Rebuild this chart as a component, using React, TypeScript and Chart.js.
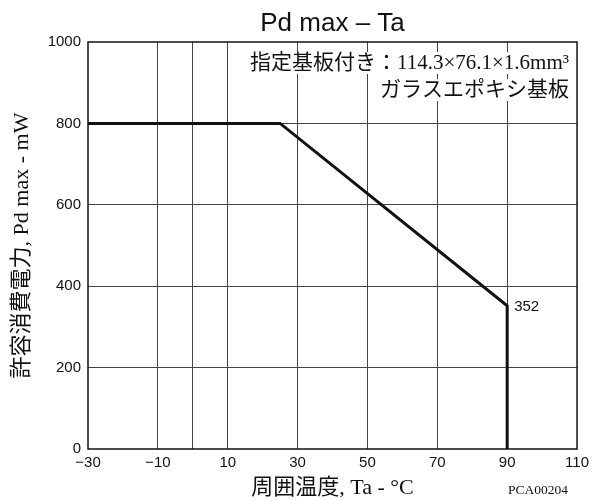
import React, { useEffect, useRef } from "react";
import { Chart, registerables } from "chart.js";

Chart.register(...registerables);

const tempX = [-30, 25, 90, 90];
const powerY = [800, 800, 352, 0];
const xTickLabels = [-30, -10, 10, 30, 50, 70, 90, 110];
const xGridLines = [-10, 0, 10, 30, 50, 70, 90];
const yTickValues = [0, 200, 400, 600, 800, 1000];
const yGridLines = [200, 400, 600, 800];
const chartTitle = "Pd max – Ta";
const xTitle = "周囲温度, Ta - °C";
const yTitle = "許容消費電力, Pd max - mW";
const noteLines = ["指定基板付き：114.3×76.1×1.6mm³", "ガラスエポキシ基板"];
const pointLabel = "352";
const docCode = "PCA00204";

const SERIF = "'Liberation Serif', 'Noto Sans CJK JP', serif";
const SANS = "'Liberation Sans', Arial, sans-serif";

const decorPlugin = {
  id: "decor",
  afterDatasetsDraw(chart: any) {
    const { ctx, chartArea: a, scales } = chart;
    ctx.save();
    // notes with white background
    ctx.font = `21px ${SERIF}`;
    ctx.textAlign = "right";
    ctx.textBaseline = "middle";
    const ys = [63, 90];
    noteLines.forEach((t, i) => {
      const w = ctx.measureText(t).width;
      ctx.fillStyle = "#fff";
      ctx.fillRect(a.right - 8 - w - 3, ys[i] - 11, w + 6, 22);
      ctx.fillStyle = "#111";
      ctx.fillText(t, a.right - 8, ys[i]);
    });
    // point label
    ctx.font = `15px ${SANS}`;
    ctx.textAlign = "left";
    ctx.fillStyle = "#111";
    const px = scales.x.getPixelForValue(tempX[2]);
    const py = scales.y.getPixelForValue(powerY[2]);
    ctx.fillText(pointLabel, px + 7, py + 1);
    // border
    ctx.strokeStyle = "#111";
    ctx.lineWidth = 1.5;
    ctx.strokeRect(a.left, a.top, a.right - a.left, a.bottom - a.top);
    // title
    ctx.font = `26px ${SANS}`;
    ctx.textAlign = "center";
    ctx.textBaseline = "alphabetic";
    ctx.fillText(chartTitle, (a.left + a.right) / 2, 31);
    // x title
    ctx.font = `22px ${SERIF}`;
    ctx.textBaseline = "middle";
    ctx.fillText(xTitle, (a.left + a.right) / 2, 488);
    // code
    ctx.font = `13.5px ${SERIF}`;
    ctx.textAlign = "right";
    ctx.fillText(docCode, a.right - 9, 490);
    // y title
    ctx.translate(22, (a.top + a.bottom) / 2);
    ctx.rotate(-Math.PI / 2);
    ctx.font = `22px ${SERIF}`;
    ctx.textAlign = "center";
    ctx.fillText(yTitle, 0, 0);
    ctx.restore();
  },
};

export default function App() {
  const ref = useRef<HTMLCanvasElement>(null);
  useEffect(() => {
    if (!ref.current) return;
    const chart = new Chart(ref.current, {
      type: "scatter",
      data: {
        datasets: [
          {
            data: tempX.map((x, i) => ({ x, y: powerY[i] })),
            showLine: true,
            borderColor: "#111",
            borderWidth: 3,
            pointRadius: 0,
            borderJoinStyle: "miter",
            fill: false,
          },
        ],
      },
      options: {
        responsive: false,
        animation: false,
        layout: { padding: { left: 0, top: 42, right: 16, bottom: 0 } },
        plugins: { legend: { display: false }, tooltip: { enabled: false } },
        scales: {
          x: {
            type: "linear",
            min: -30,
            max: 110,
            afterBuildTicks: (s: any) => {
              const vals = Array.from(new Set([...xTickLabels, ...xGridLines])).sort((p, q) => p - q);
              s.ticks = vals.map((v) => ({ value: v }));
            },
            afterFit: (s: any) => {
              s.height = 52;
            },
            border: { display: false },
            grid: {
              drawTicks: false,
              color: (c: any) =>
                xGridLines.includes(c.tick?.value) ? "#444" : "rgba(0,0,0,0)",
              lineWidth: 1,
            },
            ticks: {
              padding: 5,
              color: "#111",
              font: { family: SANS, size: 15 },
              autoSkip: false,
              maxRotation: 0,
              callback: (v: any) =>
                xTickLabels.includes(v) ? String(v).replace("-", "−") : "",
            },
          },
          y: {
            min: 0,
            max: 1000,
            afterBuildTicks: (s: any) => {
              s.ticks = yTickValues.map((v) => ({ value: v }));
            },
            afterFit: (s: any) => {
              s.width = 88;
            },
            border: { display: false },
            grid: {
              drawTicks: false,
              color: (c: any) =>
                yGridLines.includes(c.tick?.value) ? "#444" : "rgba(0,0,0,0)",
              lineWidth: 1,
            },
            ticks: {
              padding: 7,
              color: "#111",
              font: { family: SANS, size: 15 },
              callback: (v: any) => String(v),
            },
          },
        },
      },
      plugins: [decorPlugin],
    } as any);
    return () => chart.destroy();
  }, []);
  return (
    <div style={{ position: "fixed", left: 0, top: 0, width: 594, height: 501, background: "#fff" }}>
      <canvas ref={ref} width={594} height={501} />
    </div>
  );
}
